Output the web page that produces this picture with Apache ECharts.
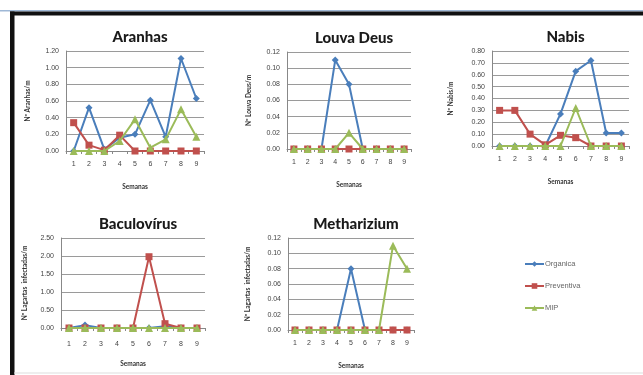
<!DOCTYPE html>
<html lang="pt">
<head>
    <meta charset="UTF-8">
    <title>Semanas</title>
    <script src="https://cdn.jsdelivr.net/npm/echarts@6/dist/echarts.min.js"></script>
    <style>
        body { margin: 0; background: #fff; }
        #main { width: 643px; height: 375px; }
    </style>
</head>
<body>
    <div id="main"></div>
    <script type="text/javascript">
        const semanas = ['1', '2', '3', '4', '5', '6', '7', '8', '9']
        const seriesNames = ['Organica', 'Preventiva', 'MIP']

        // Aranhas
        const aranhasOrg = [0.00, 0.52, 0.02, 0.16, 0.20, 0.61, 0.17, 1.11, 0.63]
        const aranhasPrev = [0.34, 0.07, 0.01, 0.19, 0.00, 0.00, 0.00, 0.00, 0.00]
        const aranhasMip = [0.00, 0.00, 0.00, 0.12, 0.38, 0.04, 0.14, 0.50, 0.17]
        // Louva Deus
        const louvaOrg = [0, 0, 0, 0.11, 0.08, 0, 0, 0, 0]
        const louvaPrev = [0, 0, 0, 0, 0, 0, 0, 0, 0]
        const louvaMip = [0, 0, 0, 0, 0.02, 0, 0, 0, 0]
        // Nabis
        const nabisOrg = [0, 0, 0, 0, 0.27, 0.63, 0.72, 0.11, 0.11]
        const nabisPrev = [0.30, 0.30, 0.10, 0.01, 0.09, 0.07, 0, 0, 0]
        const nabisMip = [0, 0, 0, 0, 0, 0.32, 0, 0, 0]
        // Baculovírus
        const bacuOrg = [0, 0.08, 0, 0, 0, 0, 0.05, 0, 0]
        const bacuPrev = [0, 0, 0, 0, 0, 1.98, 0.12, 0, 0]
        const bacuMip = [0, 0, 0, 0, 0, 0, 0, 0, 0]
        // Metharizium
        const methOrg = [0, 0, 0, 0, 0.08, 0, 0, 0, 0]
        const methPrev = [0, 0, 0, 0, 0, 0, 0, 0, 0]
        const methMip = [0, 0, 0, 0, 0, 0, 0, 0.11, 0.08]

        const colors = ['#4a7ebb', '#c0504d', '#9bbb59']
        const symbols = ['diamond', 'rect', 'triangle']
        const symbolSizes = [7, 7, 8]

        // cada painel: titulo, eixo y, escala, posicao
        const panels = [
            { title: 'Aranhas', yName: 'Nº Aranhas/m', max: 1.2, interval: 0.2, data: [aranhasOrg, aranhasPrev, aranhasMip],
              grid: { left: 66, top: 51, width: 138, height: 100 }, nameGap: 35, labelMargin: 10 },
            { title: 'Louva Deus', yName: 'Nº Louva Deus/m', max: 0.12, interval: 0.02, data: [louvaOrg, louvaPrev, louvaMip],
              grid: { left: 287, top: 52, width: 124, height: 97 }, nameGap: 35, labelMargin: 10 },
            { title: 'Nabis', yName: 'Nº Nabis/m', max: 0.8, interval: 0.1, data: [nabisOrg, nabisPrev, nabisMip],
              grid: { left: 492, top: 51, width: 137, height: 95 }, nameGap: 38, labelMargin: 10 },
            { title: 'Baculovírus', yName: 'Nº Lagartas  infectadas/m', max: 2.5, interval: 0.5, data: [bacuOrg, bacuPrev, bacuMip],
              grid: { left: 61, top: 238, width: 144, height: 90 }, nameGap: 33, labelMargin: 13 },
            { title: 'Metharizium', yName: 'Nº Lagartas  infectadas/m', max: 0.12, interval: 0.02, data: [methOrg, methPrev, methMip],
              grid: { left: 288, top: 238, width: 126, height: 92 }, nameGap: 37, labelMargin: 10 }
        ]

        var myChart = echarts.init(document.getElementById('main'));

        const titles = panels.map(p => ({
            text: p.title,
            left: p.grid.left + p.grid.width / 2,
            top: p.grid.top - 26,
            textAlign: 'center',
            textStyle: { fontFamily: 'Lato', fontWeight: 900, fontSize: 15, color: '#1a1a1a' }
        }))

        const grids = panels.map(p => p.grid)

        const xAxes = panels.map((p, i) => ({
            type: 'category',
            gridIndex: i,
            data: semanas,
            name: 'Semanas',
            nameLocation: 'middle',
            nameGap: 32,
            nameTextStyle: { fontFamily: 'Lato', fontWeight: 'bold', fontSize: 6.5, color: '#333' },
            axisLine: { lineStyle: { color: '#888' } },
            axisTick: { show: true, length: 3, lineStyle: { color: '#888' } },
            axisLabel: { fontSize: 7, color: '#444', margin: p.labelMargin }
        }))

        const yAxes = panels.map((p, i) => ({
            type: 'value',
            gridIndex: i,
            min: 0,
            max: p.max,
            interval: p.interval,
            name: p.yName,
            nameLocation: 'middle',
            nameRotate: 90,
            nameGap: p.nameGap,
            nameTextStyle: { fontFamily: 'Lato', fontWeight: 'bold', fontSize: 6.5, color: '#333' },
            axisLine: { show: true, lineStyle: { color: '#888' } },
            axisTick: { show: false },
            axisLabel: { fontSize: 7, color: '#444', margin: 7, formatter: v => v.toFixed(2) },
            splitLine: { lineStyle: { color: '#9a9a9a', width: 1 } }
        }))

        const series = []
        panels.forEach((p, i) => {
            p.data.forEach((d, k) => {
                series.push({
                    name: seriesNames[k],
                    type: 'line',
                    xAxisIndex: i,
                    yAxisIndex: i,
                    data: d,
                    symbol: symbols[k],
                    symbolSize: symbolSizes[k],
                    showAllSymbol: true,
                    lineStyle: { width: 2, color: colors[k] },
                    itemStyle: { color: colors[k] },
                    z: 2 + k
                })
            })
        })

        var option = {
            animation: false,
            backgroundColor: '#fff',
            title: titles,
            grid: grids,
            xAxis: xAxes,
            yAxis: yAxes,
            legend: {
                data: seriesNames,
                orient: 'vertical',
                left: 519,
                top: 255,
                itemWidth: 19,
                itemHeight: 7,
                itemGap: 14,
                textStyle: { fontSize: 7.5, color: '#666', padding: [0, 0, 0, -4] }
            },
            graphic: [
                // moldura
                { type: 'rect', shape: { x: 0, y: 10, width: 643, height: 1.5 }, style: { fill: '#9fb8d6' } },
                { type: 'rect', shape: { x: 10, y: 11.5, width: 633, height: 4 }, style: { fill: '#111' } },
                { type: 'rect', shape: { x: 10, y: 11.5, width: 4.5, height: 364 }, style: { fill: '#111' } },
                { type: 'rect', shape: { x: 14, y: 372.5, width: 629, height: 1 }, style: { fill: '#ddd' } }
            ],
            series: series
        };

        myChart.setOption(option);
    </script>
</body>
</html>
